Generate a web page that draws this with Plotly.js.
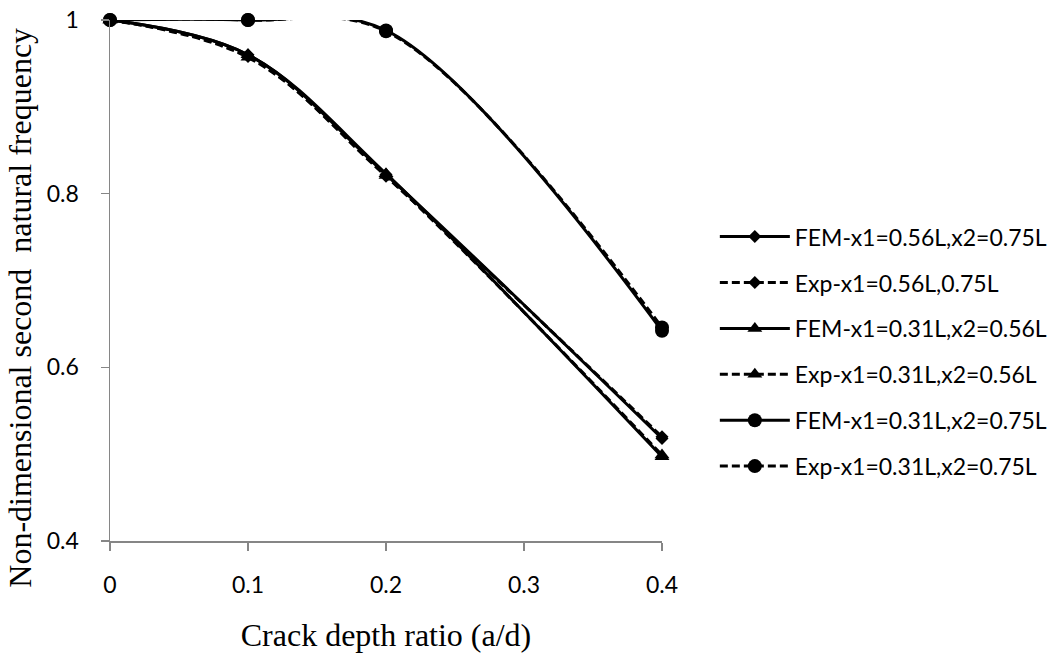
<!DOCTYPE html>
<html>
<head>
<meta charset="utf-8">
<script src="https://cdn.plot.ly/plotly-3.0.1.min.js"></script>
<style>html,body{margin:0;padding:0;background:#fff;}#chart{width:1052px;height:656px;}</style>
</head>
<body>
<div id="chart"></div>
<script>
const crackRatio = [0, 0.1, 0.2, 0.4];
const femA = [1, 0.960, 0.822, 0.518];   // FEM x1=0.56L, x2=0.75L
const expA = [1, 0.958, 0.820, 0.520];   // Exp x1=0.56L, 0.75L
const femB = [1, 0.960, 0.823, 0.497];   // FEM x1=0.31L, x2=0.56L
const expB = [1, 0.957, 0.821, 0.499];   // Exp x1=0.31L, x2=0.56L
const femC = [1, 1, 0.988, 0.642];       // FEM x1=0.31L, x2=0.75L
const expC = [1, 1, 0.987, 0.646];       // Exp x1=0.31L, x2=0.75L
const seriesNames = [
  'FEM-x1=0.56L,x2=0.75L',
  'Exp-x1=0.56L,0.75L',
  'FEM-x1=0.31L,x2=0.56L',
  'Exp-x1=0.31L,x2=0.56L',
  'FEM-x1=0.31L,x2=0.75L',
  'Exp-x1=0.31L,x2=0.75L'
];
const seriesValues = [femA, expA, femB, expB, femC, expC];
const xTickVals = [0, 0.1, 0.2, 0.3, 0.4];
const xTickText = ['0', '0.1', '0.2', '0.3', '0.4'];
const yTickVals = [0.4, 0.6, 0.8, 1];
const yTickText = ['0.4', '0.6', '0.8', '1'];
const xTitle = 'Crack depth ratio (a/d)';
const yTitle = 'Non-dimensional second  natural frequency';

const symbols = ['diamond', 'diamond', 'triangle-up', 'triangle-up', 'circle', 'circle'];
const sizes = [10, 10, 13, 13, 14, 14];
const dashes = ['solid', '8px,4px', 'solid', '8px,4px', 'solid', '8px,4px'];

const traces = seriesValues.map((vals, i) => ({
  type: 'scatter',
  mode: 'lines+markers',
  x: crackRatio,
  y: vals,
  name: seriesNames[i],
  legendgroup: 'g' + i,
  cliponaxis: false,
  line: {color: '#000', width: 3, shape: 'spline', smoothing: 1, dash: dashes[i]},
  marker: {symbol: symbols[i], size: sizes[i], color: '#000'}
}));

const sans = 'Lato, "Open Sans", sans-serif';
const serif = '"Liberation Serif", "Times New Roman", serif';

const layout = {
  width: 1052, height: 656,
  margin: {l: 110, r: 390, t: 20, b: 115},
  paper_bgcolor: '#fff', plot_bgcolor: '#fff',
  showlegend: true,
  legend: {
    xref: 'container', yref: 'container',
    x: 0.6795, xanchor: 'left', y: 0.672, yanchor: 'top',
    font: {family: sans, size: 23, color: '#000'},
    itemwidth: 70, tracegroupgap: 13, bgcolor: 'rgba(0,0,0,0)'
  },
  xaxis: {
    range: [0, 0.4], tickvals: xTickVals, ticktext: xTickText,
    showgrid: false, zeroline: false, showline: true, linecolor: '#868686', linewidth: 1.5,
    ticks: 'outside', ticklen: 8, tickcolor: '#868686', tickwidth: 1.5,
    tickfont: {family: sans, size: 23, color: '#000'}, ticklabelstandoff: 15,
    title: {text: xTitle, font: {family: serif, size: 32, color: '#000'}, standoff: 26}
  },
  yaxis: {
    range: [0.4, 1], tickvals: yTickVals, ticktext: yTickText,
    showgrid: false, zeroline: false, showline: true, linecolor: '#868686', linewidth: 1.5,
    ticks: 'outside', ticklen: 8, tickcolor: '#868686', tickwidth: 1.5,
    tickfont: {family: sans, size: 23, color: '#000'}, ticklabelstandoff: 17
  },
  annotations: [{
    text: yTitle, textangle: -90, showarrow: false,
    xref: 'paper', yref: 'paper', x: -0.162, y: 0.447, xanchor: 'center', yanchor: 'middle',
    font: {family: serif, size: 32, color: '#000'}
  }]
};

Plotly.newPlot('chart', traces, layout, {displayModeBar: false, staticPlot: true});
</script>
</body>
</html>
